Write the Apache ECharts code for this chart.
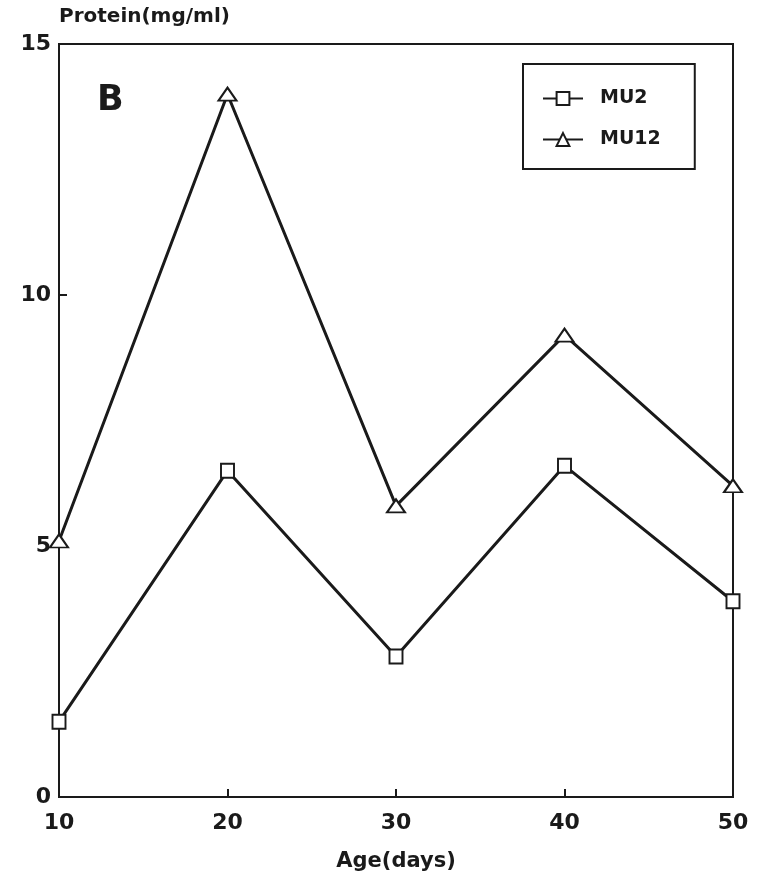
<!DOCTYPE html>
<html>
<head>
<meta charset="utf-8">
<script src="https://cdn.jsdelivr.net/npm/echarts@6/dist/echarts.min.js"></script>
<style>
  html, body { margin: 0; padding: 0; background: #fff; }
  #chart { width: 763px; height: 882px; }
</style>
</head>
<body>
<div id="chart"></div>
<script>
// data
var ages = [10, 20, 30, 40, 50];
var mu2 = [1.5, 6.5, 2.8, 6.6, 3.9];
var mu12 = [5.1, 14.0, 5.8, 9.2, 6.2];

var ink = '#1a1a1a';
var font = 'DejaVu Sans';

function pairs(xs, ys) {
	var out = [];
	for (var i = 0; i < xs.length; i++) out.push([xs[i], ys[i]]);
	return out;
}

var chart = echarts.init(document.getElementById('chart'));

var option = {
	backgroundColor: '#fff',
	animation: false,
	grid: {
		left: 59,
		right: 30,
		top: 44,
		bottom: 85,
		show: true,
		borderColor: ink,
		borderWidth: 2
	},
	legend: {
		left: 523,
		top: 64,
		orient: 'vertical',
		borderColor: ink,
		borderWidth: 2,
		padding: [25, 34, 20, 19],
		itemWidth: 40,
		itemHeight: 16,
		itemGap: 22,
		textStyle: {
			fontFamily: font,
			fontWeight: 'bold',
			fontSize: 19,
			lineHeight: 18,
			color: ink,
			padding: [0, 0, 0, 12]
		},
		data: ['MU2', 'MU12']
	},
	graphic: [{
		type: 'text',
		left: 97,
		top: 83,
		style: {
			text: 'B',
			font: 'bold 35px "DejaVu Sans"',
			fill: ink
		}
	}],
	xAxis: {
		type: 'value',
		min: 10,
		max: 50,
		interval: 10,
		name: 'Age(days)',
		nameLocation: 'middle',
		nameGap: 54,
		nameTextStyle: {
			fontFamily: font,
			fontWeight: 'bold',
			fontSize: 21,
			color: ink
		},
		axisLine: { lineStyle: { color: ink, width: 2 } },
		axisTick: { inside: true, length: 8, lineStyle: { color: ink, width: 2 } },
		axisLabel: {
			margin: 15,
			fontFamily: font,
			fontWeight: 'bold',
			fontSize: 22,
			color: ink
		},
		splitLine: { show: false }
	},
	yAxis: {
		type: 'value',
		min: 0,
		max: 15,
		interval: 5,
		name: 'Protein(mg/ml)',
		nameLocation: 'end',
		nameGap: 17,
		nameTextStyle: {
			fontFamily: font,
			fontWeight: 'bold',
			fontSize: 20,
			color: ink,
			align: 'left'
		},
		axisLine: { lineStyle: { color: ink, width: 2 } },
		axisTick: { inside: true, length: 8, lineStyle: { color: ink, width: 2 } },
		axisLabel: {
			margin: 8,
			fontFamily: font,
			fontWeight: 'bold',
			fontSize: 22,
			color: ink
		},
		splitLine: { show: false }
	},
	series: [{
		name: 'MU2',
		type: 'line',
		data: pairs(ages, mu2),
		symbol: 'emptyRect',
		symbolSize: [13, 14],
		lineStyle: { color: ink, width: 3 },
		itemStyle: { color: ink, borderWidth: 2 }
	}, {
		name: 'MU12',
		type: 'line',
		data: pairs(ages, mu12),
		symbol: 'emptyTriangle',
		symbolSize: [18, 13],
		lineStyle: { color: ink, width: 3 },
		itemStyle: { color: ink, borderWidth: 2 }
	}]
};

chart.setOption(option);
</script>
</body>
</html>
